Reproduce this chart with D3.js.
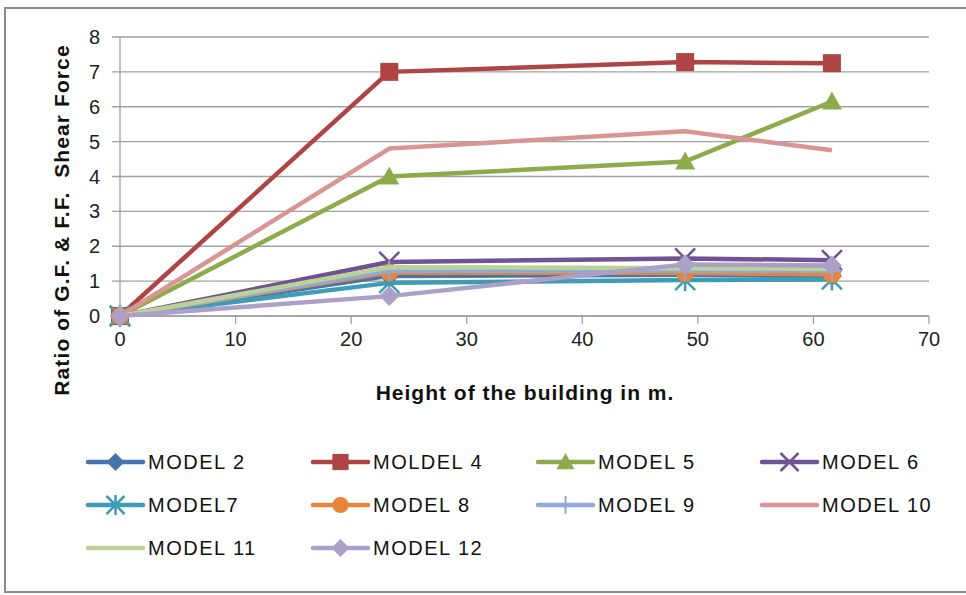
<!DOCTYPE html>
<html><head><meta charset="utf-8">
<script src="https://cdn.jsdelivr.net/npm/d3@7/dist/d3.min.js"></script>
<style>body{margin:0;background:#fff}svg{display:block}text{font-family:"Liberation Sans",Arial,sans-serif}</style>
</head><body><svg id="c" width="966" height="595"></svg>
<script>
const heights = [0, 23.3, 48.9, 61.6];
const seriesNames = ["MODEL 2","MOLDEL 4","MODEL 5","MODEL 6","MODEL7","MODEL 8","MODEL 9","MODEL 10","MODEL 11","MODEL 12"];
const model2  = [0, 1.15, 1.18, 1.15];
const model4  = [0, 7.0, 7.28, 7.25];
const model5  = [0, 4.0, 4.43, 6.15];
const model6  = [0, 1.55, 1.65, 1.6];
const model7  = [0, 0.95, 1.03, 1.05];
const model8  = [0, 1.25, 1.23, 1.2];
const model9  = [0, 1.3, 1.3, 1.3];
const model10 = [0, 4.8, 5.3, 4.75];
const model11 = [0, 1.4, 1.37, 1.35];
const model12 = [0, 0.57, 1.48, 1.45];
const xTicks = [0,10,20,30,40,50,60,70];
const yTicks = [0,1,2,3,4,5,6,7,8];

const values = [model2,model4,model5,model6,model7,model8,model9,model10,model11,model12];
const colors = ["#4674AC","#AE4544","#8EAB4C","#6F5392","#3E9CB6","#E9853A","#8FAADA","#D99594","#BCD196","#AC9FC8"];
const markers = ["diamond","square","triangle","x","asterisk","circle","plus","none","none","diamond"];

const svg = d3.select("#c");
svg.append("rect").attr("x",5).attr("y",8).attr("width",990).attr("height",584)
  .attr("fill","#fff").attr("stroke","#8a8a8a").attr("stroke-width",2);

const x = d3.scaleLinear().domain([0,70]).range([120,929]);
const y = d3.scaleLinear().domain([0,8]).range([316,37]);

const gy = svg.append("g");
gy.selectAll("line").data(yTicks).join("line")
  .attr("x1",112).attr("x2",929).attr("y1",d=>y(d)).attr("y2",d=>y(d))
  .attr("stroke","#a0a0a0").attr("stroke-width",1.3);
gy.selectAll("text").data(yTicks).join("text")
  .attr("x",100).attr("y",d=>y(d)+7).attr("text-anchor","end")
  .attr("font-size",20).attr("fill","#222").text(d=>d);
svg.append("line").attr("x1",120).attr("x2",120).attr("y1",37).attr("y2",316).attr("stroke","#a0a0a0").attr("stroke-width",1.3);
const gx = svg.append("g");
gx.selectAll("line").data(xTicks).join("line")
  .attr("x1",d=>x(d)).attr("x2",d=>x(d)).attr("y1",316).attr("y2",324)
  .attr("stroke","#a0a0a0").attr("stroke-width",1.3);
gx.selectAll("text").data(xTicks).join("text")
  .attr("x",d=>x(d)).attr("y",346).attr("text-anchor","middle")
  .attr("font-size",20).attr("fill","#222").text(d=>d);
svg.append("line").attr("x1",120).attr("x2",929).attr("y1",316).attr("y2",316).attr("stroke","#a0a0a0").attr("stroke-width",1.3);

svg.append("text").attr("x",525).attr("y",400).attr("text-anchor","middle")
  .attr("font-size",21).attr("font-weight","bold").attr("letter-spacing",1).attr("fill","#111").text("Height of the building in m.");
svg.append("text").attr("transform","translate(69,220) rotate(-90)").attr("text-anchor","middle")
  .attr("font-size",21).attr("font-weight","bold").attr("letter-spacing",1.1).attr("fill","#111").attr("xml:space","preserve")
  .text("Ratio of G.F. & F.F.  Shear Force");

function drawMarker(g, type, cx, cy, color, s){
  s = s||1;
  if(type==="diamond"){
    g.append("path").attr("d",`M${cx},${cy-10*s}L${cx+10*s},${cy}L${cx},${cy+10*s}L${cx-10*s},${cy}Z`).attr("fill",color);
  } else if(type==="square"){
    g.append("rect").attr("x",cx-9*s).attr("y",cy-9*s).attr("width",18*s).attr("height",18*s).attr("fill",color);
  } else if(type==="triangle"){
    g.append("path").attr("d",`M${cx},${cy-10*s}L${cx+10*s},${cy+8*s}L${cx-10*s},${cy+8*s}Z`).attr("fill",color);
  } else if(type==="circle"){
    g.append("circle").attr("cx",cx).attr("cy",cy).attr("r",9*s).attr("fill",color);
  } else if(type==="x"){
    g.append("path").attr("d",`M${cx-10*s},${cy-10*s}L${cx+10*s},${cy+10*s}M${cx+10*s},${cy-10*s}L${cx-10*s},${cy+10*s}`).attr("stroke",color).attr("stroke-width",2.5);
  } else if(type==="asterisk"){
    g.append("path").attr("d",`M${cx-10*s},${cy-10*s}L${cx+10*s},${cy+10*s}M${cx+10*s},${cy-10*s}L${cx-10*s},${cy+10*s}M${cx},${cy-11*s}L${cx},${cy+11*s}`).attr("stroke",color).attr("stroke-width",2.5);
  } else if(type==="plus"){
    g.append("path").attr("d",`M${cx-10*s},${cy}L${cx+10*s},${cy}M${cx},${cy-10*s}L${cx},${cy+10*s}`).attr("stroke",color).attr("stroke-width",2);
  }
}

const line = d3.line().x((d,i)=>x(heights[i])).y(d=>y(d));
values.forEach((vals,k)=>{
  const g = svg.append("g");
  g.append("path").attr("d",line(vals)).attr("fill","none").attr("stroke",colors[k])
    .attr("stroke-width",4.5).attr("stroke-linejoin","round");
  vals.forEach((v,i)=>drawMarker(g, markers[k], x(heights[i]), y(v), colors[k]));
});

const legX = [88,313,538,762], legY = [462,505,548];
seriesNames.forEach((name,k)=>{
  const lx = legX[k%4], ly = legY[Math.floor(k/4)];
  const g = svg.append("g");
  g.append("line").attr("x1",lx).attr("x2",lx+55).attr("y1",ly).attr("y2",ly)
    .attr("stroke",colors[k]).attr("stroke-width",4.5).attr("stroke-linecap","round");
  drawMarker(g, markers[k], lx+27.5, ly, colors[k], 0.9);
  g.append("text").attr("x",lx+60).attr("y",ly+7).attr("font-size",20).attr("fill","#111")
    .attr("letter-spacing",1.5).text(name);
});
</script></body></html>
